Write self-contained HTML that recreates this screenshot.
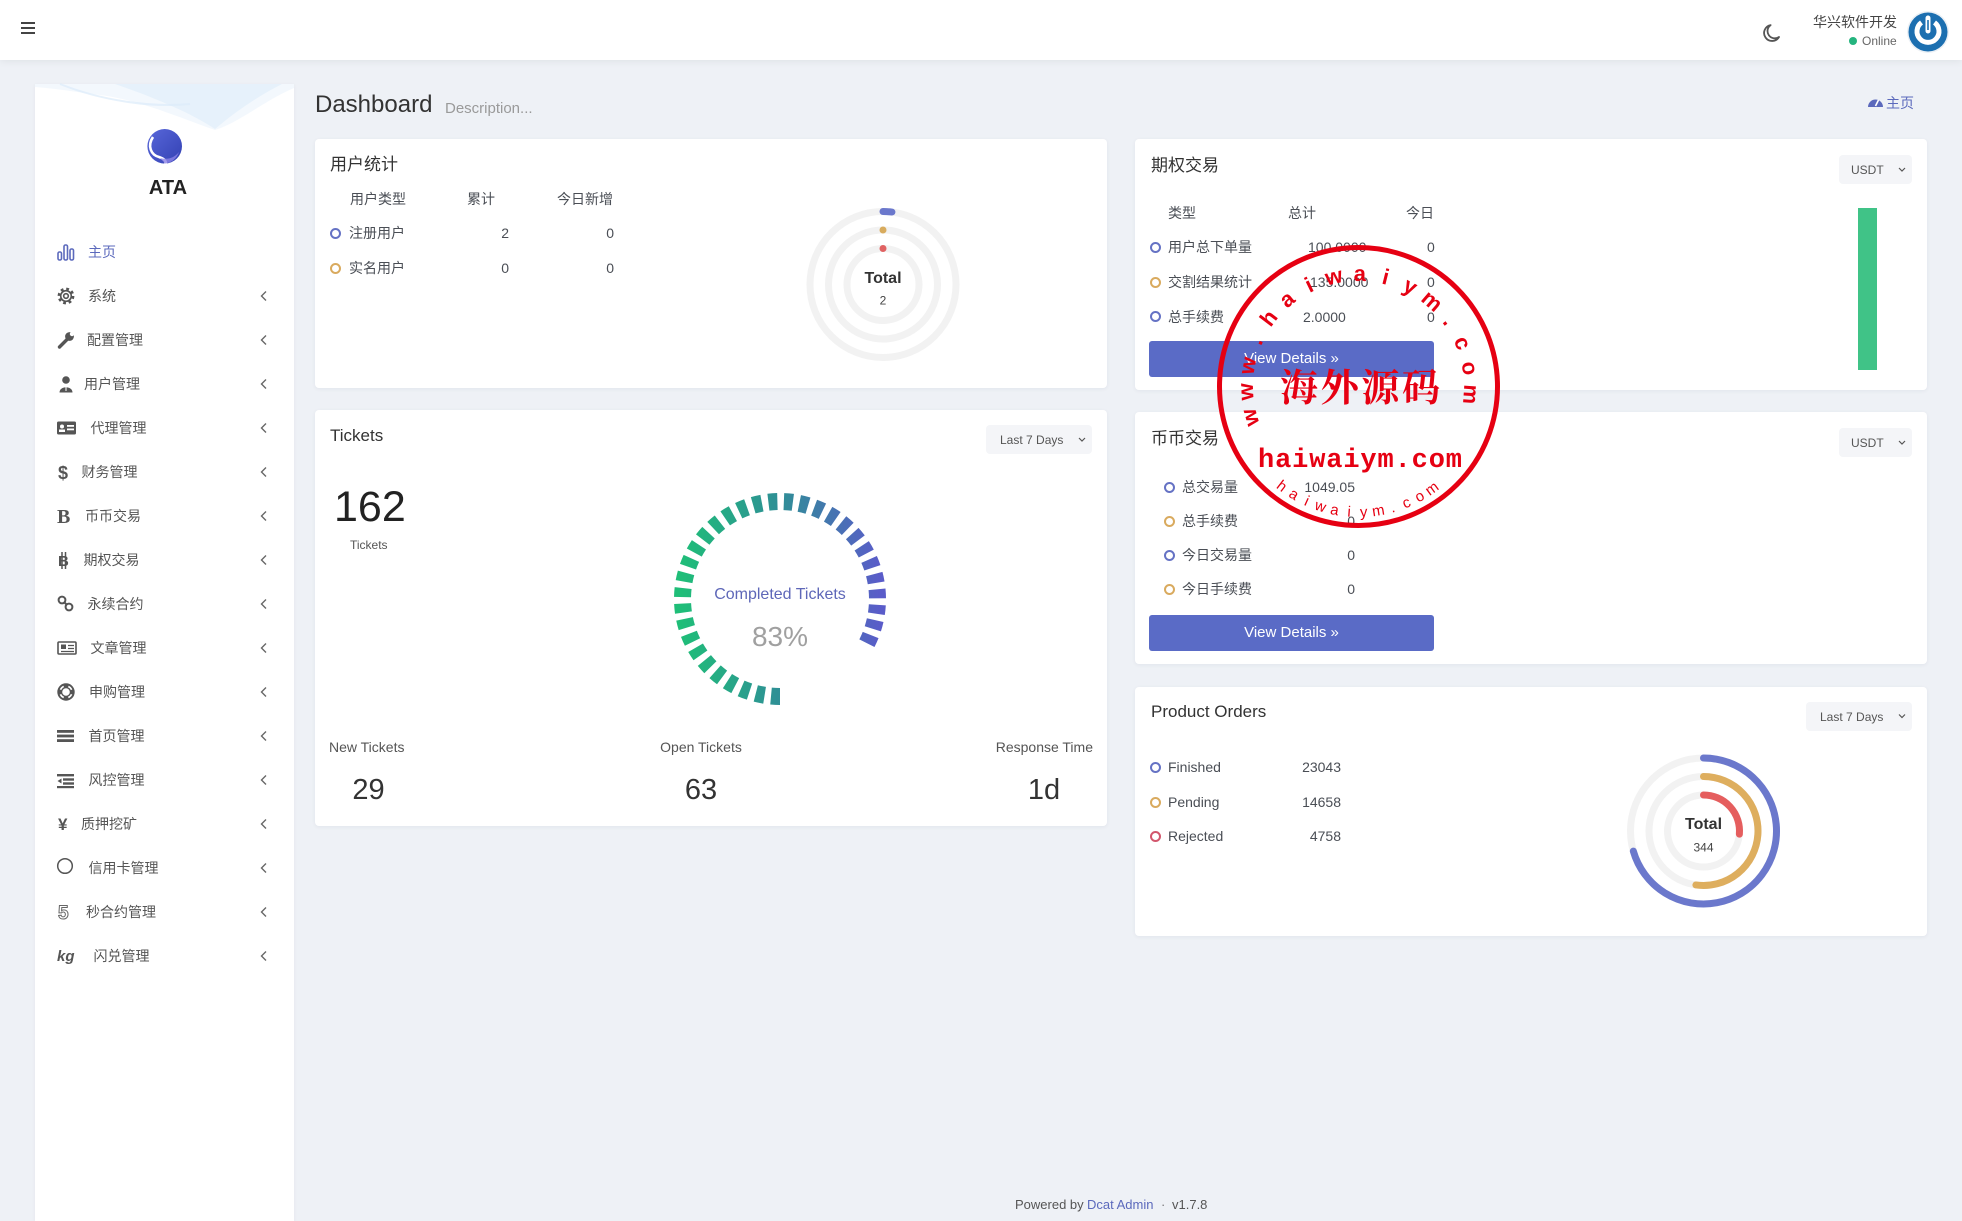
<!DOCTYPE html>
<html><head><meta charset="utf-8">
<style>
*{margin:0;padding:0;box-sizing:border-box}
html,body{width:1962px;height:1221px;overflow:hidden}
body{background:#eef1f6;font-family:"Liberation Sans","Noto Sans CJK SC",sans-serif;position:relative;color:#4a4e55}
.a{position:absolute;white-space:nowrap;line-height:1}
.card{position:absolute;background:#fff;border-radius:4px;box-shadow:0 1px 4px rgba(20,30,60,.06)}
.dot{position:absolute;width:11px;height:11px;border-radius:50%;border:2px solid #6572c4}
.g{border-color:#d9aa5e}.r{border-color:#d2566c}
.dd{position:absolute;background:#f4f5f8;border-radius:4px}
.btn{position:absolute;background:#5a6bc6;border-radius:3px;color:#fff;font-size:15px;text-align:center;line-height:36px;height:36px;width:285px;left:1149px}
.m{font-size:14px;color:#555}
.t14{font-size:14px;color:#4a4e55}
.tt{font-size:17px;color:#333}
</style></head>
<body>
<!-- header -->
<div style="position:absolute;left:0;top:0;width:1962px;height:60px;background:#fff;box-shadow:0 1px 8px rgba(0,0,0,.07)"></div>
<div style="position:absolute;left:21px;top:22px;width:14px;height:2.4px;background:#444"></div>
<div style="position:absolute;left:21px;top:27px;width:14px;height:2.4px;background:#444"></div>
<div style="position:absolute;left:21px;top:32px;width:14px;height:2.4px;background:#444"></div>
<div class="a" style="right:65px;top:14.5px;font-size:14px;color:#444">华兴软件开发</div>
<div style="position:absolute;left:1849px;top:37px;width:8px;height:8px;border-radius:50%;background:#24b47e"></div>
<div class="a" style="left:1862px;top:35px;font-size:12px;color:#666">Online</div>

<!-- sidebar -->
<div style="position:absolute;left:35px;top:84px;width:259px;height:1137px;background:#fff;box-shadow:0 1px 4px rgba(20,30,60,.05)"></div>
<div class="a" style="left:118px;top:178px;width:100px;text-align:center;font-size:20px;font-weight:bold;color:#222">ATA</div>
<div class="a m" style="left:88px;top:245px;color:#5b69bc">主页</div>
<div class="a m" style="left:88px;top:289px">系统</div>
<div class="a m" style="left:87px;top:333px">配置管理</div>
<div class="a m" style="left:84px;top:377px">用户管理</div>
<div class="a m" style="left:90.5px;top:421px">代理管理</div>
<div class="a m" style="left:81.5px;top:465px">财务管理</div>
<div class="a m" style="left:85px;top:509px">币币交易</div>
<div class="a m" style="left:83.5px;top:553px">期权交易</div>
<div class="a m" style="left:87.5px;top:597px">永续合约</div>
<div class="a m" style="left:90.5px;top:641px">文章管理</div>
<div class="a m" style="left:89px;top:685px">申购管理</div>
<div class="a m" style="left:88.5px;top:729px">首页管理</div>
<div class="a m" style="left:88.5px;top:773px">风控管理</div>
<div class="a m" style="left:81px;top:817px">质押挖矿</div>
<div class="a m" style="left:88.5px;top:861px">信用卡管理</div>
<div class="a m" style="left:86px;top:905px">秒合约管理</div>
<div class="a m" style="left:93.5px;top:949px">闪兑管理</div>

<!-- title -->
<div class="a" style="left:315px;top:93px;font-size:24px;color:#333">Dashboard</div>
<div class="a" style="left:445px;top:100.5px;font-size:15px;color:#9a9a9a">Description...</div>
<div class="a" style="left:1886px;top:96px;font-size:14px;color:#5b69bc">主页</div>

<!-- cards -->
<div class="card" style="left:315px;top:139px;width:792px;height:249px"></div>
<div class="card" style="left:315px;top:410px;width:792px;height:416px"></div>
<div class="card" style="left:1135px;top:139px;width:792px;height:251px"></div>
<div class="card" style="left:1135px;top:412px;width:792px;height:252px"></div>
<div class="card" style="left:1135px;top:687px;width:792px;height:249px"></div>

<!-- card A -->
<div class="a tt" style="left:330px;top:155.5px">用户统计</div>
<div class="a t14" style="left:350px;top:192px">用户类型</div>
<div class="a t14" style="left:467px;top:192px">累计</div>
<div class="a t14" style="left:557px;top:192px">今日新增</div>
<div class="dot" style="left:329.5px;top:227.5px"></div>
<div class="a t14" style="left:349px;top:226px">注册用户</div>
<div class="a t14" style="right:1453px;top:226px">2</div>
<div class="a t14" style="right:1348px;top:226px">0</div>
<div class="dot g" style="left:329.5px;top:262.5px"></div>
<div class="a t14" style="left:349px;top:261px">实名用户</div>
<div class="a t14" style="right:1453px;top:261px">0</div>
<div class="a t14" style="right:1348px;top:261px">0</div>

<!-- card B -->
<div class="a tt" style="left:330px;top:426.5px">Tickets</div>
<div class="dd" style="left:986px;top:425px;width:106px;height:29px"></div>
<div class="a" style="left:1000px;top:434px;font-size:12px;color:#555">Last 7 Days</div>
<div class="a" style="left:334px;top:485.5px;font-size:43px;color:#222">162</div>
<div class="a" style="left:350px;top:539px;font-size:12px;color:#555">Tickets</div>
<div class="a" style="left:329px;top:740px;font-size:14px;color:#555">New Tickets</div>
<div class="a" style="left:601px;width:200px;text-align:center;top:740px;font-size:14px;color:#555">Open Tickets</div>
<div class="a" style="right:869px;top:740px;font-size:14px;color:#555">Response Time</div>
<div class="a" style="left:268.5px;width:200px;text-align:center;top:775.5px;font-size:29px;color:#333">29</div>
<div class="a" style="left:601px;width:200px;text-align:center;top:775.5px;font-size:29px;color:#333">63</div>
<div class="a" style="left:944px;width:200px;text-align:center;top:775.5px;font-size:29px;color:#333">1d</div>

<!-- card C -->
<div class="a tt" style="left:1151px;top:156.5px">期权交易</div>
<div class="dd" style="left:1839px;top:155px;width:73px;height:29px"></div>
<div class="a" style="left:1851px;top:163.5px;font-size:12px;color:#555">USDT</div>
<div class="a t14" style="left:1168px;top:206px">类型</div>
<div class="a t14" style="left:1288px;top:206px">总计</div>
<div class="a t14" style="left:1406px;top:206px">今日</div>
<div class="dot" style="left:1149.5px;top:241.5px"></div>
<div class="a t14" style="left:1168px;top:240px">用户总下单量</div>
<div class="a t14" style="left:1308px;top:240px">100.0000</div>
<div class="a t14" style="left:1427px;top:240px">0</div>
<div class="dot g" style="left:1149.5px;top:276.5px"></div>
<div class="a t14" style="left:1168px;top:275px">交割结果统计</div>
<div class="a t14" style="left:1310px;top:275px">135.0000</div>
<div class="a t14" style="left:1427px;top:275px">0</div>
<div class="dot" style="left:1149.5px;top:311px"></div>
<div class="a t14" style="left:1168px;top:309.5px">总手续费</div>
<div class="a t14" style="left:1303px;top:309.5px">2.0000</div>
<div class="a t14" style="left:1427px;top:309.5px">0</div>
<div class="btn" style="top:341px">View Details &raquo;</div>

<!-- card D -->
<div class="a tt" style="left:1151px;top:429.5px">币币交易</div>
<div class="dd" style="left:1839px;top:428px;width:73px;height:29px"></div>
<div class="a" style="left:1851px;top:436.5px;font-size:12px;color:#555">USDT</div>
<div class="dot" style="left:1163.5px;top:481.5px"></div>
<div class="a t14" style="left:1182px;top:480px">总交易量</div>
<div class="a t14" style="right:607px;top:480px">1049.05</div>
<div class="dot g" style="left:1163.5px;top:515.5px"></div>
<div class="a t14" style="left:1182px;top:514px">总手续费</div>
<div class="a t14" style="right:607px;top:514px">0</div>
<div class="dot" style="left:1163.5px;top:549.5px"></div>
<div class="a t14" style="left:1182px;top:548px">今日交易量</div>
<div class="a t14" style="right:607px;top:548px">0</div>
<div class="dot g" style="left:1163.5px;top:583.5px"></div>
<div class="a t14" style="left:1182px;top:582px">今日手续费</div>
<div class="a t14" style="right:607px;top:582px">0</div>
<div class="btn" style="top:615px">View Details &raquo;</div>

<!-- card E -->
<div class="a tt" style="left:1151px;top:703px">Product Orders</div>
<div class="dd" style="left:1806px;top:702px;width:106px;height:29px"></div>
<div class="a" style="left:1820px;top:710.5px;font-size:12px;color:#555">Last 7 Days</div>
<div class="dot" style="left:1149.5px;top:761.5px"></div>
<div class="a t14" style="left:1168px;top:760px">Finished</div>
<div class="a t14" style="right:621px;top:760px">23043</div>
<div class="dot g" style="left:1149.5px;top:796.5px"></div>
<div class="a t14" style="left:1168px;top:795px">Pending</div>
<div class="a t14" style="right:621px;top:795px">14658</div>
<div class="dot r" style="left:1149.5px;top:830.5px"></div>
<div class="a t14" style="left:1168px;top:829px">Rejected</div>
<div class="a t14" style="right:621px;top:829px">4758</div>

<!-- footer -->
<div class="a" style="left:1015px;top:1197.5px;font-size:13px;color:#555">Powered by</div>
<div class="a" style="left:1087px;top:1197.5px;font-size:13px;color:#5b69bc">Dcat Admin</div>
<div class="a" style="left:1161px;top:1197.5px;font-size:13px;color:#777">·</div>
<div class="a" style="left:1172px;top:1197.5px;font-size:13px;color:#555">v1.7.8</div>

<svg width="1962" height="1221" style="position:absolute;left:0;top:0;font-family:'Liberation Sans','Noto Sans CJK SC',sans-serif" xmlns="http://www.w3.org/2000/svg">
<defs>
<linearGradient id="tg" gradientUnits="userSpaceOnUse" x1="680" y1="0" x2="880" y2="0">
<stop offset="0" stop-color="#1fbe78"/><stop offset=".5" stop-color="#2f8f96"/><stop offset="1" stop-color="#5a5cc9"/>
</linearGradient>
<linearGradient id="lg" x1="0" y1="0" x2="1" y2="1">
<stop offset="0" stop-color="#5867da"/><stop offset="1" stop-color="#3341b3"/>
</linearGradient>
</defs>

<!-- sidebar wave -->
<path d="M35 84 L294 84 L294 88 C262 102 240 122 215 130 C180 118 140 100 100 95 C70 91 50 88 35 87 Z" fill="#e4effa" opacity=".45"/>
<path d="M115 84 C150 96 190 112 215 129 C235 112 258 96 282 84 Z" fill="#d3e6f8" opacity=".4"/>
<path d="M60 84 C100 100 150 108 190 104" stroke="#dcebf9" stroke-width="2" fill="none" opacity=".7"/>
<!-- logo -->
<circle cx="164.7" cy="146.3" r="17.3" fill="url(#lg)"/>
<path d="M153 137 C147 146 151 155 159 157 C165 159 167 162 165 164" stroke="#fff" stroke-width="2.6" fill="none"/>
<path d="M160 158 C168 160 174 158 179 152 C176 160 170 163 165 163.5 Z" fill="#8c83e6" opacity=".8"/>

<!-- header icons -->
<path d="M1779 37 A8 8 0 1 1 1770.6 25.1 A6.5 6.5 0 0 0 1779 37 Z" fill="none" stroke="#555" stroke-width="1.8" stroke-linejoin="round"/>
<circle cx="1928" cy="32" r="21" fill="#dde6ef" opacity=".6"/>
<circle cx="1928" cy="32" r="19.5" fill="#1c6fb0"/>
<path d="M1921.5 22.5 A11 11 0 1 0 1934.5 22.5" stroke="#fff" stroke-width="5" fill="none"/>
<path d="M1928 18 L1928 31" stroke="#fff" stroke-width="5" stroke-linecap="round"/>
<path d="M1928 20 L1928 30" stroke="#1c6fb0" stroke-width="1.6"/>
<path d="M1868 107 A7.5 7.5 0 1 1 1883 107 Z" fill="#5b69bc"/>
<path d="M1875.5 106 L1878.5 100" stroke="#fff" stroke-width="1.6"/>

<!-- sidebar icons -->
<g transform="translate(57 243)" fill="none" stroke="#5b69bc" stroke-width="1.6">
<rect x="1" y="9" width="3.5" height="8" rx="1.5"/><rect x="7" y="2" width="3.5" height="15" rx="1.5"/><rect x="13" y="6" width="3.5" height="11" rx="1.5"/></g>
<g transform="translate(57 287)" fill="none" stroke="#555">
<circle cx="9" cy="9" r="6.9" stroke-width="3" stroke-dasharray="2.7 2.72"/><circle cx="9" cy="9" r="5.3" stroke-width="1.6"/><circle cx="9" cy="9" r="2.3" stroke-width="1.6"/></g>
<g transform="translate(57 331)" fill="#555">
<path d="M2.5 16 L10 8.5" stroke="#555" stroke-width="3.4" stroke-linecap="round"/><circle cx="12.5" cy="5.5" r="4.4"/><circle cx="15" cy="3" r="2.2" fill="#fff"/></g>
<g transform="translate(57 375)" fill="#555">
<circle cx="9" cy="5" r="3.8"/><path d="M2.5 17.5 C2.5 10.5 15.5 10.5 15.5 17.5 Z"/><path d="M9 10 L9 16" stroke="#fff" stroke-width="1"/></g>
<g transform="translate(57 419)">
<rect x="0" y="2.5" width="19" height="13" rx="1.5" fill="#555"/><circle cx="5" cy="7.5" r="2" fill="#fff"/><rect x="2" y="10.5" width="6" height="2.5" fill="#fff"/><rect x="10" y="6" width="7" height="1.8" fill="#fff"/><rect x="10" y="9.5" width="7" height="1.8" fill="#fff"/></g>
<text x="58" y="479" font-size="18" font-weight="bold" fill="#555">$</text>
<text x="57" y="523" font-size="20" font-weight="bold" font-family="Liberation Serif" fill="#555">B</text>
<g transform="translate(57 551)" fill="#555"><text x="1" y="15" font-size="15" font-weight="bold">B</text><path d="M5 1 V18 M8.5 1 V18" stroke="#555" stroke-width="1.5"/></g>
<g transform="translate(57 595)" fill="none" stroke="#555" stroke-width="2">
<circle cx="5" cy="5" r="3.4"/><circle cx="12" cy="12" r="3.4"/><path d="M7.5 7.5 L9.5 9.5"/></g>
<g transform="translate(57 639)" fill="none" stroke="#555">
<rect x="1" y="3" width="18" height="12" rx="1" stroke-width="1.6"/><rect x="4" y="5.5" width="5" height="4.5" fill="#555" stroke="none"/><path d="M11 6.5 H17 M11 9.5 H17 M4 12.5 H17" stroke-width="1.3"/></g>
<g transform="translate(57 683)" fill="none">
<circle cx="9" cy="9" r="6" stroke="#555" stroke-width="4.4"/><circle cx="9" cy="9" r="6" stroke="#fff" stroke-width="1.6" stroke-dasharray="4.7 4.7" transform="rotate(22 9 9)"/><circle cx="9" cy="9" r="8.2" stroke="#555" stroke-width="1"/></g>
<g transform="translate(57 727)" fill="#555"><rect x="0" y="3" width="17" height="2.8"/><rect x="0" y="7.6" width="17" height="2.8"/><rect x="0" y="12.2" width="17" height="2.8"/></g>
<g transform="translate(57 771)" fill="#555"><rect x="0" y="3" width="17" height="2.4"/><rect x="6" y="7.3" width="11" height="2.4"/><rect x="6" y="11.3" width="11" height="2.4"/><rect x="0" y="15" width="17" height="2.2"/><path d="M4.5 7.5 L0.5 10 L4.5 12.5 Z"/></g>
<text x="58" y="830" font-size="17" font-weight="bold" fill="#555">¥</text>
<circle cx="65" cy="866" r="7.3" fill="none" stroke="#555" stroke-width="1.5"/>
<text x="58" y="919" font-size="19" font-weight="bold" fill="none" stroke="#666" stroke-width="1">5</text>
<text x="57" y="961" font-size="15" font-weight="bold" font-style="italic" fill="#555">kg</text>
<g fill="none" stroke="#666" stroke-width="1.4">
<path d="M266 291.5 L261.5 296 L266 300.5"/><path d="M266 335.5 L261.5 340 L266 344.5"/><path d="M266 379.5 L261.5 384 L266 388.5"/>
<path d="M266 423.5 L261.5 428 L266 432.5"/><path d="M266 467.5 L261.5 472 L266 476.5"/><path d="M266 511.5 L261.5 516 L266 520.5"/>
<path d="M266 555.5 L261.5 560 L266 564.5"/><path d="M266 599.5 L261.5 604 L266 608.5"/><path d="M266 643.5 L261.5 648 L266 652.5"/>
<path d="M266 687.5 L261.5 692 L266 696.5"/><path d="M266 731.5 L261.5 736 L266 740.5"/><path d="M266 775.5 L261.5 780 L266 784.5"/>
<path d="M266 819.5 L261.5 824 L266 828.5"/><path d="M266 863.5 L261.5 868 L266 872.5"/><path d="M266 907.5 L261.5 912 L266 916.5"/>
<path d="M266 951.5 L261.5 956 L266 960.5"/>
</g>
<!-- dropdown chevrons -->
<g fill="none" stroke="#555" stroke-width="1.2">
<path d="M1079 438 L1082 441 L1085 438"/><path d="M1899 168 L1902 171 L1905 168"/><path d="M1899 441 L1902 444 L1905 441"/><path d="M1899 714.5 L1902 717.5 L1905 714.5"/>
</g>

<!-- card A radial -->
<g fill="none" stroke="#f2f2f2" stroke-width="7">
<circle cx="883" cy="284.5" r="73"/><circle cx="883" cy="284.5" r="54.5"/><circle cx="883" cy="284.5" r="36"/>
</g>
<path d="M883 211.5 A73 73 0 0 1 891.9 212.05" stroke="#6b78cc" stroke-width="7" stroke-linecap="round" fill="none"/>
<circle cx="883" cy="230" r="3.5" fill="#d8ab5d"/>
<circle cx="883" cy="248.5" r="3.5" fill="#e06262"/>
<text x="883" y="282.8" text-anchor="middle" font-weight="bold" font-size="16" fill="#333">Total</text>
<text x="883" y="304.3" text-anchor="middle" font-size="12" fill="#444">2</text>

<!-- tickets gauge -->
<path d="M780 696.5 A97.5 97.5 0 1 1 864.44 647.75" fill="none" stroke="url(#tg)" stroke-width="17" stroke-dasharray="9 6.5"/>
<text x="780" y="599" text-anchor="middle" font-size="16" fill="#5e67b8">Completed Tickets</text>
<text x="780" y="646" text-anchor="middle" font-size="28" fill="#a0a0a0">83%</text>

<!-- green bar -->
<rect x="1858" y="208" width="19" height="162" fill="#40c387"/>

<!-- product orders radial -->
<g fill="none" stroke="#f2f2f2" stroke-width="7">
<circle cx="1703.5" cy="831" r="73"/><circle cx="1703.5" cy="831" r="54.5"/><circle cx="1703.5" cy="831" r="36"/>
</g>
<g fill="none" stroke-width="7" stroke-linecap="round">
<path d="M1703.5 758 A73 73 0 1 1 1633.33 851.12" stroke="#6b78cc"/>
<path d="M1703.5 776.5 A54.5 54.5 0 1 1 1695.91 884.97" stroke="#deae5e"/>
<path d="M1703.5 795 A36 36 0 0 1 1739.36 834.14" stroke="#e55e5e"/>
</g>
<text x="1703.5" y="828.8" text-anchor="middle" font-weight="bold" font-size="16" fill="#333">Total</text>
<text x="1703.5" y="851.3" text-anchor="middle" font-size="12" fill="#444">344</text>

<!-- stamp -->
<g fill="#e60012">
<circle cx="1358.5" cy="386.5" r="139" fill="none" stroke="#e60012" stroke-width="5"/>
<g font-size="22" font-weight="bold" text-anchor="middle" dominant-baseline="central">
<text x="1358.5" y="273.5" transform="rotate(-106 1358.5 386.5)">w</text>
<text x="1358.5" y="273.5" transform="rotate(-92.67 1358.5 386.5)">w</text>
<text x="1358.5" y="273.5" transform="rotate(-79.33 1358.5 386.5)">w</text>
<text x="1358.5" y="273.5" transform="rotate(-66 1358.5 386.5)">.</text>
<text x="1358.5" y="273.5" transform="rotate(-52.67 1358.5 386.5)">h</text>
<text x="1358.5" y="273.5" transform="rotate(-39.33 1358.5 386.5)">a</text>
<text x="1358.5" y="273.5" transform="rotate(-26 1358.5 386.5)">i</text>
<text x="1358.5" y="273.5" transform="rotate(-12.67 1358.5 386.5)">w</text>
<text x="1358.5" y="273.5" transform="rotate(0.67 1358.5 386.5)">a</text>
<text x="1358.5" y="273.5" transform="rotate(14 1358.5 386.5)">i</text>
<text x="1358.5" y="273.5" transform="rotate(27.33 1358.5 386.5)">y</text>
<text x="1358.5" y="273.5" transform="rotate(40.67 1358.5 386.5)">m</text>
<text x="1358.5" y="273.5" transform="rotate(54 1358.5 386.5)">.</text>
<text x="1358.5" y="273.5" transform="rotate(67.33 1358.5 386.5)">c</text>
<text x="1358.5" y="273.5" transform="rotate(80.67 1358.5 386.5)">o</text>
<text x="1358.5" y="273.5" transform="rotate(94 1358.5 386.5)">m</text>
</g>
<g font-size="15" text-anchor="middle" dominant-baseline="central">
<text x="1358.5" y="512.5" transform="rotate(37.6 1358.5 386.5)">h</text>
<text x="1358.5" y="512.5" transform="rotate(30.94 1358.5 386.5)">a</text>
<text x="1358.5" y="512.5" transform="rotate(24.27 1358.5 386.5)">i</text>
<text x="1358.5" y="512.5" transform="rotate(17.61 1358.5 386.5)">w</text>
<text x="1358.5" y="512.5" transform="rotate(10.94 1358.5 386.5)">a</text>
<text x="1358.5" y="512.5" transform="rotate(4.28 1358.5 386.5)">i</text>
<text x="1358.5" y="512.5" transform="rotate(-2.38 1358.5 386.5)">y</text>
<text x="1358.5" y="512.5" transform="rotate(-9.05 1358.5 386.5)">m</text>
<text x="1358.5" y="512.5" transform="rotate(-15.71 1358.5 386.5)">.</text>
<text x="1358.5" y="512.5" transform="rotate(-22.38 1358.5 386.5)">c</text>
<text x="1358.5" y="512.5" transform="rotate(-29.04 1358.5 386.5)">o</text>
<text x="1358.5" y="512.5" transform="rotate(-35.7 1358.5 386.5)">m</text>
</g>
<text x="1360" y="401" text-anchor="middle" font-family="'Noto Serif CJK SC',serif" font-weight="bold" font-size="38" textLength="160" lengthAdjust="spacing">海外源码</text>
<text x="1360" y="467" text-anchor="middle" font-family="'Liberation Mono',monospace" font-weight="bold" font-size="27" textLength="204" lengthAdjust="spacing">haiwaiym.com</text>
</g>
</svg>
</body></html>
